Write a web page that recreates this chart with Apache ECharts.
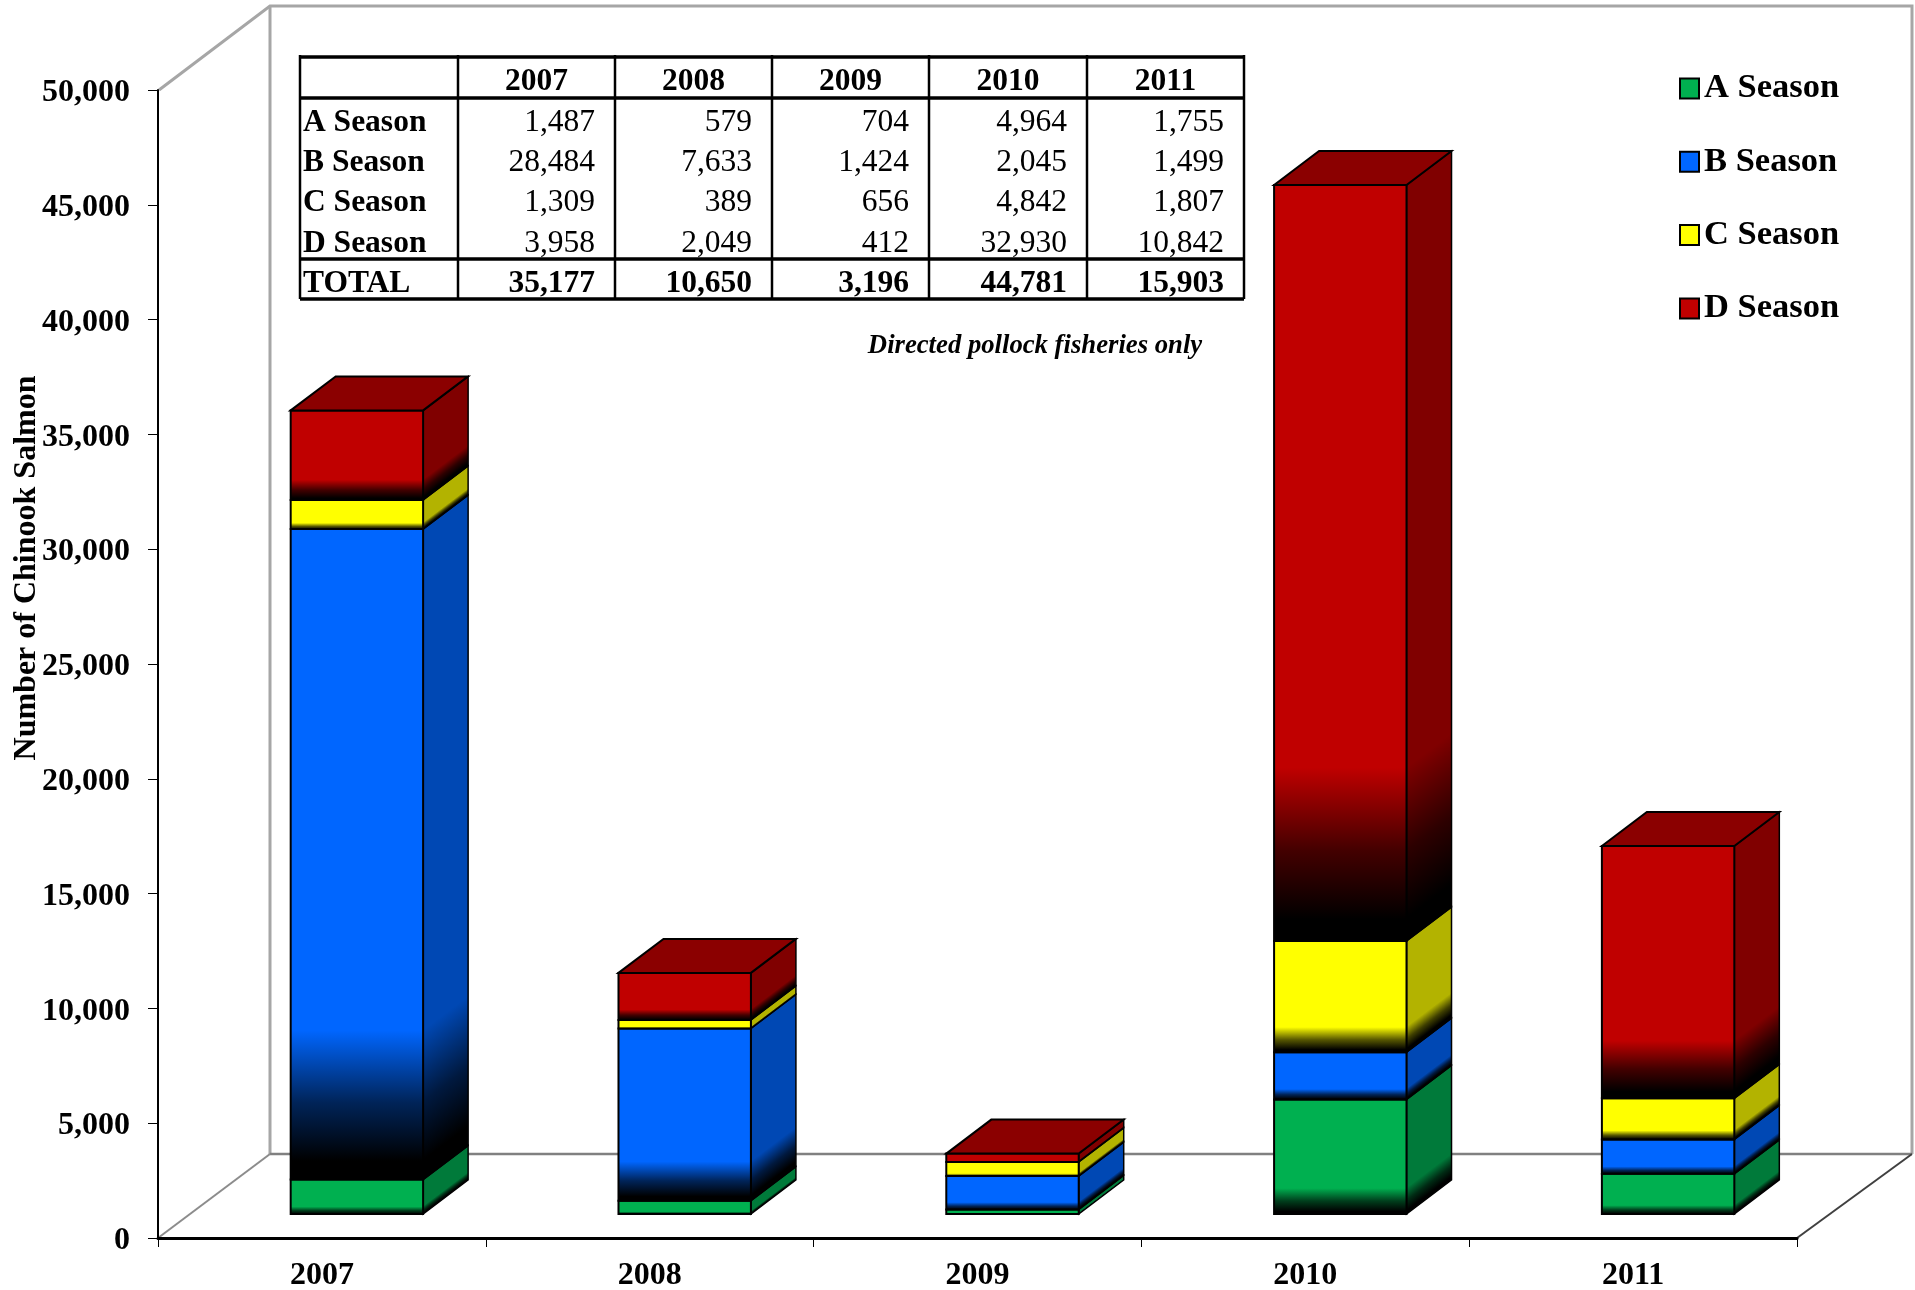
<!DOCTYPE html>
<html><head><meta charset="utf-8">
<style>html,body{margin:0;padding:0;background:#fff}#c{width:1915px;height:1290px}</style>
<script src="https://cdn.jsdelivr.net/npm/echarts@6/dist/echarts.min.js"></script>
</head><body><div id="c"></div>
<script>
const years = ['2007','2008','2009','2010','2011'];
// printed in the table
const tableA = [1487,579,704,4964,1755];
const tableB = [28484,7633,1424,2045,1499];
const tableC = [1309,389,656,4842,1807];
const tableD = [3958,2049,412,32930,10842];
const totals = [35177,10650,3196,44781,15903];
// heights
const aSeason = [1500,580,200,4990,1750];
const bSeason = [28330,7500,1450,2060,1500];
const cSeason = [1270,370,620,4840,1790];
const dSeason = [3900,2050,360,32930,10990];
const seasonNames = ['A Season','B Season','C Season','D Season'];
const seasonValues = [aSeason,bSeason,cSeason,dSeason];
const tableValues = [tableA,tableB,tableC,tableD];
const frontColors = ['#00b050','#0066ff','#ffff00','#c00000'];
const sideColors = ['#007a3a','#0048b4','#b3b300','#800000'];
const topColor = '#8b0000';
const FONT = '"Liberation Serif","Times New Roman",serif';

// bar placement inside the 3D floor
const OFF_X = 35, OFF_Y = 24, DX = 45, DY = 34, BAR_RATIO = 0.404;

function stops(c){
  return [{offset:0,color:c},{offset:0.77,color:c},{offset:0.88,color:echarts.color.lerp(0.65,[c,'#000000'])},{offset:0.97,color:'#000000'},{offset:1,color:'#000000'}];
}
function renderer(si){
  return function(params, api){
    const cat = api.value(0), pLo = api.coord([cat, api.value(1)]), pHi = api.coord([cat, api.value(2)]);
    const bw = api.size([1,0])[0]*BAR_RATIO;
    const x0 = pLo[0]+OFF_X-bw/2, x1 = x0+bw, yb = pLo[1]-OFF_Y, yt = pHi[1]-OFF_Y;
    const h = yb-yt, len = Math.hypot(DX,DY), t = h*DX/len;
    const front = new echarts.graphic.LinearGradient(0,0,0,1,stops(frontColors[si]));
    const side = new echarts.graphic.LinearGradient(x1,yt,x1+DY/len*t,yt+DX/len*t,stops(sideColors[si]),true);
    const children = [
      {type:'polygon',shape:{points:[[x1,yt],[x1+DX,yt-DY],[x1+DX,yb-DY],[x1,yb]]},style:{fill:side,stroke:'#000',lineWidth:1.5}},
      {type:'rect',shape:{x:x0,y:yt,width:bw,height:h},style:{fill:front,stroke:'#000',lineWidth:2}}
    ];
    if(si===3) children.push({type:'polygon',shape:{points:[[x0,yt],[x0+DX,yt-DY],[x1+DX,yt-DY],[x1,yt]]},style:{fill:topColor,stroke:'#000',lineWidth:2}});
    return {type:'group',children};
  };
}
const cum = years.map(()=>0);
const series = seasonNames.map((name,si)=>({
  type:'custom',name,renderItem:renderer(si),clip:false,
  itemStyle:{color:frontColors[si]},
  encode:{x:0,y:[1,2]},
  data:years.map((y,i)=>{const lo=cum[i];cum[i]+=seasonValues[si][i];return [i,lo,cum[i]];})
}));

// walls
const wall = [];
function wl(pts,color,w){wall.push({type:'polyline',z:0,shape:{points:pts},style:{stroke:color,lineWidth:w,fill:null}});}
wl([[159,90],[270,6],[1912,6],[1912,1154]],'#a6a6a6',3);
wl([[270,6],[270,1154]],'#a6a6a6',3);
wl([[270,1154],[1912,1154]],'#808080',2.5);
wl([[158,1238],[270,1154]],'#8c8c8c',2);
wl([[1797,1238],[1912,1154]],'#404040',2);

// table
const colX=[300,458,615,772,929,1087,1244], rowY=[57,98,259,299];
const rowCY=[82,123,163,203,244,284];
const fmt=v=>v.toLocaleString('en-US');
const tbl=[];
function line(x1,y1,x2,y2,w){tbl.push({type:'line',z:6,shape:{x1,y1,x2,y2},style:{stroke:'#000',lineWidth:w}});}
function txt(s,x,y,align,bold){tbl.push({type:'text',z:7,style:{text:s,x,y,align,verticalAlign:'middle',fontFamily:FONT,fontSize:31.5,fontWeight:bold?'bold':'normal',fill:'#000'}});}
rowY.forEach(y=>line(300,y,1244,y,3.5));
colX.forEach(x=>line(x,55,x,299,2.5));
years.forEach((y,i)=>{
  const cx=(colX[i+1]+colX[i+2])/2, rx=colX[i+2]-20;
  txt(y,cx,rowCY[0],'center',true);
  tableValues.forEach((vals,si)=>txt(fmt(vals[i]),rx,rowCY[si+1],'right',false));
  txt(fmt(totals[i]),rx,rowCY[5],'right',true);
});
seasonNames.forEach((n,si)=>txt(n,303,rowCY[si+1],'left',true));
txt('TOTAL',303,rowCY[5],'left',true);
tbl.push({type:'text',z:7,style:{text:'Directed pollock fisheries only',x:1035,y:346,align:'center',verticalAlign:'middle',fontFamily:FONT,fontSize:26.7,fontWeight:'bold',fontStyle:'italic',fill:'#000'}});

const chart = echarts.init(document.getElementById('c'),null,{renderer:'canvas'});
chart.setOption({
  animation:false,backgroundColor:'#fff',
  grid:{left:158,top:90,width:1639,height:1148,containLabel:false,outerBoundsMode:'none'},
  legend:{
    orient:'vertical',left:1679,top:71,padding:0,itemWidth:19,itemHeight:20,itemGap:38.3,icon:'rect',
    textStyle:{fontFamily:FONT,fontSize:34.5,fontWeight:'bold',color:'#000',lineHeight:34},
    data:seasonNames.map((name,i)=>({name,icon:'rect',itemStyle:{color:frontColors[i],borderColor:'#000',borderWidth:2}}))
  },
  xAxis:{type:'category',data:years,boundaryGap:true,
    axisLine:{show:true,lineStyle:{color:'#000',width:3}},
    axisTick:{show:true,alignWithLabel:false,length:9,lineStyle:{color:'#000',width:1}},
    axisLabel:{fontFamily:FONT,fontSize:32,fontWeight:'bold',color:'#000',margin:22}},
  yAxis:{type:'value',min:0,max:50000,interval:5000,
    name:'Number of Chinook Salmon',nameLocation:'middle',nameGap:115,nameRotate:90,nameMoveOverlap:false,
    nameTextStyle:{fontFamily:FONT,fontSize:32,fontWeight:'bold',color:'#000',padding:[0,0,0,192]},
    splitLine:{show:false},
    axisLine:{show:true,lineStyle:{color:'#000',width:2}},
    axisTick:{show:true,length:10,lineStyle:{color:'#000',width:1}},
    axisLabel:{fontFamily:FONT,fontSize:32,fontWeight:'bold',color:'#000',margin:28,verticalAlign:'top',lineHeight:6,formatter:v=>fmt(v)}},
  graphic:{elements:wall.concat(tbl)},
  series
});
</script></body></html>
